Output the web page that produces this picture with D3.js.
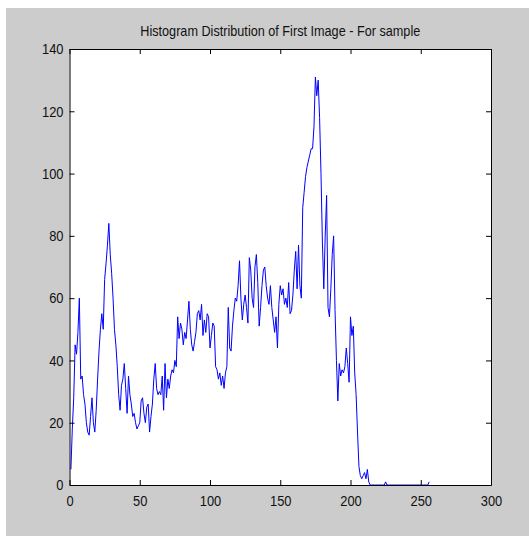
<!DOCTYPE html>
<html>
<head>
<meta charset="utf-8">
<script src="https://cdn.jsdelivr.net/npm/d3@7"></script>
<style>
  body { margin: 0; background: #fff; }
  text { font-family: "Liberation Sans Narrow", "Arial Narrow", "Liberation Sans", Arial, sans-serif; }
</style>
</head>
<body>
<div id="chart"></div>
<script>
const title = "Histogram Distribution of First Image - For sample";
const xTicks = [0, 50, 100, 150, 200, 250, 300];
const yTicks = [0, 20, 40, 60, 80, 100, 120, 140];
// pixel counts for grey levels, plotted at x = 1..256
const counts = [
  5, 18, 28, 45, 42, 49, 60, 34, 35, 29,
  26, 20, 17, 16, 22, 28, 20, 17, 24, 34,
  43, 50, 55, 50, 66, 71, 77, 84, 74, 68,
  60, 50, 45, 38, 29, 24, 32, 34, 39, 31,
  23, 35, 29, 26, 22, 23, 20, 18, 19, 20,
  27, 28, 23, 20, 25, 26, 17, 22, 26, 34,
  39, 31, 29, 30, 29, 35, 24, 39, 28, 34,
  31, 35, 37, 36, 40, 38, 54, 47, 52, 50,
  45, 49, 47, 53, 59, 50, 45, 43, 46, 49,
  55, 56, 53, 58, 48, 53, 49, 55, 54, 44,
  48, 52, 51, 38, 37, 34, 36, 32, 35, 31,
  36, 38, 57, 44, 43, 51, 56, 60, 59, 64,
  72, 60, 53, 58, 61, 57, 52, 73, 69, 60,
  57, 70, 74, 65, 51, 57, 64, 69, 70, 64,
  60, 58, 64, 57, 53, 49, 54, 44, 58, 64,
  61, 63, 58, 60, 57, 65, 55, 56, 61, 69,
  75, 63, 77, 64, 60, 89, 94, 99, 102, 104,
  106, 108, 108, 115, 131, 125, 130, 118, 100, 78,
  63, 80, 93, 57, 54, 63, 74, 80, 56, 40,
  27, 39, 35, 37, 36, 38, 44, 39, 33, 54,
  48, 51, 36, 29, 17, 6, 3, 2, 3, 4,
  2, 5, 1, 0, 0, 0, 0, 0, 0, 0,
  0, 0, 0, 0, 1, 0, 0, 0, 0, 0,
  0, 0, 0, 0, 0, 0, 0, 0, 0, 0,
  0, 0, 0, 0, 0, 0, 0, 0, 0, 0,
  0, 0, 0, 0, 0, 1
];

const width = 529, height = 536;
const margin = { top: 49, right: 38, bottom: 51, left: 69.5 };
const innerW = width - margin.left - margin.right;
const innerH = height - margin.top - margin.bottom;

const svg = d3.select("#chart").append("svg")
  .attr("width", width)
  .attr("height", height);

// figure background
svg.append("rect")
  .attr("x", 6).attr("y", 8)
  .attr("width", width - 6).attr("height", height - 8)
  .attr("fill", "#cccccc");

svg.append("text")
  .attr("x", margin.left + innerW / 2)
  .attr("y", 36)
  .attr("text-anchor", "middle")
  .attr("font-size", 15)
  .attr("fill", "#111")
  .attr("textLength", 280)
  .attr("lengthAdjust", "spacingAndGlyphs")
  .text(title);

const g = svg.append("g")
  .attr("transform", "translate(" + margin.left + "," + margin.top + ")");

g.append("rect")
  .attr("width", innerW).attr("height", innerH)
  .attr("fill", "#fff");

const x = d3.scaleLinear().domain([0, 300]).range([0, innerW]);
const y = d3.scaleLinear().domain([0, 140]).range([innerH, 0]);

const line = d3.line()
  .x((d, i) => x(i + 1))
  .y(d => y(d));

g.append("path")
  .datum(counts)
  .attr("fill", "none")
  .attr("stroke", "#0000ff")
  .attr("stroke-width", 1)
  .attr("d", line);

// narrow the tick labels a bit, the original font is condensed
function styleAxis(sel) {
  sel.selectAll("path.domain").attr("stroke", "#000");
  sel.selectAll(".tick line").attr("stroke", "#000");
  sel.selectAll("text")
    .attr("font-family", null)
    .attr("font-size", 15)
    .attr("fill", "#111")
    .attr("transform", "scale(0.86,1)");
}

g.append("g")
  .attr("transform", "translate(0," + innerH + ")")
  .call(d3.axisBottom(x).tickValues(xTicks).tickSizeInner(-5).tickSizeOuter(0).tickPadding(10))
  .call(styleAxis);

g.append("g")
  .call(d3.axisLeft(y).tickValues(yTicks).tickSizeInner(-5).tickSizeOuter(0).tickPadding(7))
  .call(styleAxis);

g.append("g")
  .call(d3.axisTop(x).tickValues(xTicks).tickSizeInner(-5).tickSizeOuter(0).tickFormat(""))
  .call(styleAxis);

g.append("g")
  .attr("transform", "translate(" + innerW + ",0)")
  .call(d3.axisRight(y).tickValues(yTicks).tickSizeInner(-5).tickSizeOuter(0).tickFormat(""))
  .call(styleAxis);

svg.selectAll(".domain").attr("fill", "none");
</script>
</body>
</html>
